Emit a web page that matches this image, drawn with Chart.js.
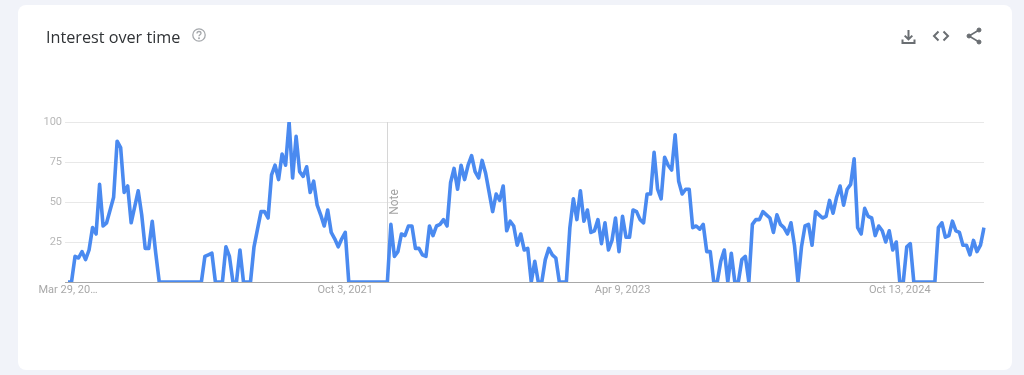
<!DOCTYPE html>
<html>
<head>
<meta charset="utf-8">
<title>Interest over time</title>
<script src="https://cdn.jsdelivr.net/npm/chart.js@4"></script>
<style>
  html, body { margin: 0; padding: 0; width: 1024px; height: 375px; overflow: hidden; background: #f1f3f9; }
  #card { position: absolute; left: 18px; top: 5px; width: 994px; height: 365px; background: #fff; border-radius: 8px; }
  #title { position: absolute; left: 46px; top: 26px; font: 400 16.2px "Open Sans", Roboto, sans-serif; color: #303336; white-space: nowrap; }
  #wrap { position: absolute; left: 0; top: 0; width: 1024px; height: 375px; }
  svg.icon { position: absolute; }
</style>
</head>
<body>
<div id="card"></div>
<div id="wrap"><canvas id="myChart" width="1024" height="375"></canvas></div>
<div id="title">Interest over time</div>

<svg class="icon" style="left:191px;top:27px" width="16" height="16" viewBox="0 0 16 16" fill="none" stroke="#a5a8ac" stroke-width="1.3">
  <circle cx="8" cy="8" r="6.2"/>
  <path d="M6 6.4c0-1.1.9-1.9 2-1.9s2 .8 2 1.8c0 1.4-2 1.5-2 3"/>
  <circle cx="8" cy="11.3" r=".4"/>
</svg>
<svg class="icon" style="left:899px;top:27px" width="19" height="19" viewBox="0 0 19 19" fill="none" stroke="#6a6e72" stroke-width="2">
  <path d="M9.5 3v9M5.7 8.6l3.8 3.8 3.8-3.8M3.5 12.5v3.5h12v-3.5"/>
</svg>
<svg class="icon" style="left:932px;top:27px" width="18" height="18" viewBox="0 0 18 18" fill="none" stroke="#6a6e72" stroke-width="2">
  <path d="M6.5 4.5L2 9l4.5 4.5M11.5 4.5L16 9l-4.5 4.5"/>
</svg>
<svg class="icon" style="left:965px;top:26px" width="18" height="20" viewBox="0 0 18 20" fill="#6a6e72" stroke="#6a6e72">
  <circle cx="14" cy="4" r="2"/>
  <circle cx="4" cy="10" r="2"/>
  <circle cx="14" cy="16" r="2"/>
  <path d="M14 4L4 10l10 6" fill="none" stroke-width="1.6"/>
</svg>

<script>
// weekly values
const interest = [
  0, 0, 16, 15, 19, 14, 20, 34, 30, 61, 35, 37, 45, 53, 88, 84, 56, 60, 37, 47, 57, 42, 21, 21, 38, 18,
  0, 0, 0, 0, 0, 0, 0, 0, 0, 0, 0, 0, 0,
  16, 17, 18, 0, 0, 0, 22, 16, 0, 0, 20, 0, 0, 0, 22, 33, 44, 44, 40,
  67, 73, 64, 80, 73, 100, 65, 91, 69, 66, 72, 56, 63, 48, 42, 35, 45, 31, 27, 22, 27, 31,
  0, 0, 0, 0, 0, 0, 0, 0, 0, 0, 0, 0,
  36, 16, 19, 30, 29, 35, 35, 21, 21, 17, 16, 35, 29, 35, 36, 39, 35, 62, 71, 58, 73, 64, 73, 79, 69, 65, 76, 68, 56, 44, 55, 51,
  60, 32, 38, 35, 23, 30, 20, 21, 0, 13, 0, 0, 14, 21, 17, 15, 0, 0, 0,
  34, 52, 39, 57, 38, 45, 31, 32, 39, 24, 37, 20, 26, 40, 19, 41, 28, 28, 45, 44, 39, 37, 55, 55, 81, 58, 52, 78, 73, 70, 92, 63, 55, 58, 58,
  34, 35, 33, 36, 19, 19, 0, 0, 13, 20, 0, 18, 0, 0, 14, 16, 0,
  36, 39, 39, 44, 42, 40, 31, 42, 36, 34, 30, 37, 23, 0, 22, 35, 36, 23, 44, 42, 40, 41, 51, 43, 53, 60, 48, 58, 61, 77,
  34, 30, 46, 41, 40, 29, 35, 32, 25, 32, 20, 25, 0, 0, 22, 24,
  0, 0, 0, 0, 0, 0, 0,
  34, 37, 28, 29, 38, 32, 31, 23, 23, 17, 26, 19, 23, 34,
];
const xTickIndexes = [0, 79, 158, 237];
const xTickLabels = ["Mar 29, 20…", "Oct 3, 2021", "Apr 9, 2023", "Oct 13, 2024"];
const yTicks = [0, 25, 50, 75, 100];
const noteIndex = 91;

const weeks = interest.map((v, i) => {
  const d = new Date(Date.UTC(2020, 2, 29 + i * 7));
  return d.toLocaleDateString("en-US", { month: "short", day: "numeric", year: "numeric", timeZone: "UTC" });
});

// vertical marker with the rotated "Note" text
const notePlugin = {
  id: "note",
  beforeDatasetsDraw(chart) {
    const { ctx, scales, chartArea } = chart;
    const x = Math.floor(scales.x.getPixelForValue(noteIndex)) + 0.5;
    ctx.save();
    ctx.strokeStyle = "#d6d6d6";
    ctx.lineWidth = 1;
    ctx.beginPath();
    ctx.moveTo(x, chartArea.top);
    ctx.lineTo(x, chartArea.bottom);
    ctx.stroke();
    ctx.translate(x + 7.5, 202);
    ctx.rotate(-Math.PI / 2);
    ctx.fillStyle = "#a3a3a3";
    ctx.font = '12px Roboto, sans-serif';
    ctx.textAlign = "center";
    ctx.textBaseline = "middle";
    ctx.fillText("Note", 0, 0);
    ctx.restore();
  },
};

new Chart(document.getElementById("myChart"), {
  type: "line",
  data: {
    labels: weeks,
    datasets: [
      {
        label: "Interest over time",
        data: interest,
        borderColor: "#4a8af0",
        borderWidth: 3.6,
        tension: 0,
        pointRadius: 0,
        borderJoinStyle: "round",
      },
    ],
  },
  plugins: [notePlugin],
  options: {
    responsive: false,
    animation: false,
    layout: { padding: { top: 122, right: 40, bottom: 0, left: 0 } },
    plugins: { legend: { display: false }, tooltip: { enabled: false } },
    scales: {
      x: {
        grid: { display: false, drawTicks: false },
        border: { display: false },
        ticks: {
          autoSkip: false,
          maxRotation: 0,
          padding: 2,
          color: "#a8a8a8",
          font: { family: "Roboto", size: 11 },
          callback: (v, i) => (xTickIndexes.includes(i) ? xTickLabels[xTickIndexes.indexOf(i)] : ""),
        },
        afterFit: (scale) => { scale.height = 93; },
      },
      y: {
        min: 0,
        max: 100,
        afterBuildTicks: (scale) => { scale.ticks = yTicks.map((value) => ({ value })); },
        grid: {
          color: (c) => (c.tick.value === 0 ? "#a8a8a8" : "#e8e8e8"),
          tickLength: 3,
          tickColor: (c) => (c.tick.value === 0 ? "#a8a8a8" : "#e8e8e8"),
        },
        border: { display: false },
        ticks: {
          padding: 3,
          color: "#b8b8b8",
          font: { family: "Roboto", size: 11 },
          callback: (v) => (v === 0 ? "" : v),
        },
        afterFit: (scale) => { scale.width = 68; },
      },
    },
  },
});
</script>
</body>
</html>
